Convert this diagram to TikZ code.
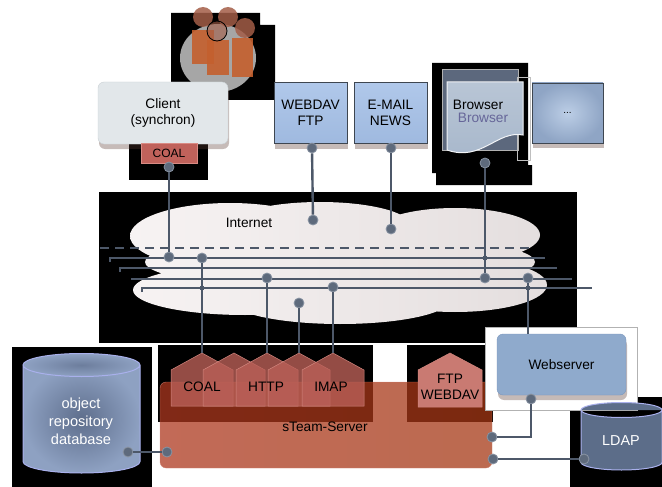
\documentclass[tikz,border=0pt]{standalone}
\usepackage{fontspec}
\setmainfont{Liberation Sans}
\usetikzlibrary{shadows,positioning}

\definecolor{netline}{HTML}{4D5869}
\definecolor{portfill}{HTML}{5E6A7C}
\definecolor{portring}{HTML}{8A94A3}
\definecolor{clientfill}{HTML}{E2E7EA}
\definecolor{clientedge}{HTML}{C9D0D4}
\definecolor{protolight}{HTML}{B0C8EA}
\definecolor{protofill}{HTML}{9FB9DF}
\definecolor{protoedge}{HTML}{3E4650}
\definecolor{dotslight}{HTML}{BCCEE6}
\definecolor{dotsdark}{HTML}{8FA5C5}
\definecolor{browserback}{HTML}{5C687D}
\definecolor{browserpage}{HTML}{A7B7CB}
\definecolor{cloudleft}{HTML}{F7F3F3}
\definecolor{cloudright}{HTML}{E4DEDE}
\definecolor{coaltab}{HTML}{C0625B}
\definecolor{coaltabedge}{HTML}{D98B84}
\definecolor{housefill}{HTML}{B95F57}
\definecolor{houseedge}{HTML}{D2867E}
\definecolor{ftpfill}{HTML}{C97A72}
\definecolor{webfill}{HTML}{8FAACC}
\definecolor{webedge}{HTML}{7A97BE}
\definecolor{dbinner}{HTML}{5E6E8C}
\definecolor{dbouter}{HTML}{8EA1C2}
\definecolor{dbedge}{HTML}{A9B0EC}
\definecolor{ldapfill}{HTML}{5C6D89}
\definecolor{shadowbrown}{HTML}{5B3B33}
\definecolor{serverL}{HTML}{AD381F}
\definecolor{serverM}{HTML}{CC675B}
\definecolor{serverR}{HTML}{A53815}
\definecolor{serveredge}{HTML}{D58A7C}
\definecolor{iconbody}{HTML}{C4602E}
\definecolor{iconhead}{HTML}{A35D47}

\tikzset{
  net/.style={line width=2.4pt, draw=netline},
  port/.style={circle, fill=portfill, draw=portring, line width=0.8pt,
    minimum size=10pt, inner sep=0pt},
  joint/.style={rectangle, fill=netline, minimum size=4pt, inner sep=0pt},
  boxshadow/.style={drop shadow={shadow xshift=1pt, shadow yshift=-5pt,
    opacity=0.35, fill=shadowbrown}},
  protocol/.style={rectangle, draw=protoedge, line width=0.8pt,
    top color=protolight, bottom color=protofill,
    minimum width=73pt, minimum height=61pt, align=center, boxshadow},
  house/.pic={
    \filldraw[fill=housefill, fill opacity=0.8, draw=houseedge, line width=0.5pt]
      (-31,27) -- (-31,-9) -- (0,-26) -- (31,-9) -- (31,27) -- cycle;
    \coordinate (-top) at (0,-26);
  },
}

\begin{document}
\begin{tikzpicture}[x=1pt,y=-1pt,font=\fontsize{13.7}{16}\selectfont]
\useasboundingbox (0,0) rectangle (662,487);

% black backdrops
\fill[black] (171,13) rectangle (260,100) (255,25) rectangle (275,100);
\fill[black] (129,144) rectangle (208,180);
\fill[black] (432,63) rectangle (528,173) (436,165) rectangle (532,185);
\fill[black] (99,192) rectangle (577,343);
\fill[black] (158,345) rectangle (373,422);
\fill[black] (407,345) rectangle (493,422);
\fill[black] (12,347) rectangle (152,487);
\fill[black] (570,397) rectangle (662,487);

% users icon
\fill[gray!70] (218,58) ellipse (38 and 34);
\fill[iconbody, opacity=0.9] (192,30) rectangle (214,64);
\fill[iconbody, opacity=0.9] (207,40) rectangle (229,75);
\fill[iconbody, opacity=0.9] (232,38) rectangle (253,77);
\fill[iconhead, opacity=0.85] (203,17) circle (10) (228,17) circle (10) (245,28) circle (10);
\filldraw[fill=iconhead, fill opacity=0.6, draw=black, line width=0.8pt] (217,31) circle (10);

% clients
\node[rectangle, rounded corners=6pt, fill=clientfill, draw=clientedge,
  minimum width=130pt, minimum height=62pt, align=center, boxshadow]
  (client) at (163,113) {Client\\(synchron)};
\node[rectangle, fill=coaltab, draw=coaltabedge, minimum width=56pt,
  minimum height=20pt, inner sep=0pt, font=\fontsize{12}{14}\selectfont]
  (clientcoal) at (169,153) {COAL};
\node[protocol] (webdav) at (310.5,113) {WEBDAV\\FTP};
\node[protocol] (email) at (390.5,113) {E-MAIL\\NEWS};
\node[rectangle, draw=protoedge, line width=0.8pt, inner color=dotslight,
  outer color=dotsdark, minimum width=71pt, minimum height=60pt, boxshadow]
  (more) at (567.5,113) {\fontsize{10}{12}\selectfont ...};

% browser page
\filldraw[fill=browserback, draw=gray!60] (442,69) rectangle (518,150);
\draw[gray!50, line width=0.4pt] (517,77) rectangle (530,160);
\filldraw[top color=browserpage!80!white, bottom color=browserpage,
  draw=white!85!browserpage, line width=1pt]
  (447,82) -- (523,82) -- (523,135) .. controls (497,130) and (482,162) .. (447,150) -- cycle;
\node (browser) at (478,105) {Browser};
\node[text=gray!80!blue] (browserecho) at (483,118) {Browser};

% internet cloud
\shade[left color=cloudleft, right color=cloudright]
  (230,236) ellipse (100 and 33) (320,225) ellipse (90 and 23)
  (455,235) ellipse (85 and 27) (455,285) ellipse (92 and 27)
  (245,290) ellipse (112 and 25) (340,300) ellipse (110 and 24)
  (340,262) ellipse (195 and 28);
\node (internet) at (249,223) {Internet};

% bus lines
\coordinate (bus0w) at (100,248); \coordinate (bus0e) at (533,248);
\coordinate (bus1w) at (110,258); \coordinate (bus1e) at (545,258);
\coordinate (bus2w) at (120,268); \coordinate (bus2e) at (557,268);
\coordinate (bus3w) at (131,279); \coordinate (bus3e) at (572,279);
\coordinate (bus4w) at (142,288); \coordinate (bus4e) at (592,288);
\draw[net, dash pattern=on 9pt off 6pt] (bus0w) -- (bus0e);
\draw[net] (bus1w) ++(0,4) -- (bus1w) -- (bus1e);
\draw[net] (bus2w) ++(0,4) -- (bus2w) -- (bus2e);
\draw[net] (bus3w) -- (bus3e);
\draw[net] (bus4w) ++(0,4) -- (bus4w) -- (bus4e);

% server
\node[rectangle, rounded corners=6pt, left color=serverL, middle color=serverM,
  right color=serverR, opacity=0.75, draw=serveredge,
  minimum width=332pt, minimum height=86pt] (server) at (326,425) {};
\node (serverlabel) at (325,427) {sTeam-Server};
\pic (coal) at (202,379) {house};
\pic (mod1) at (234,379) {house};
\pic (http) at (267,379) {house};
\pic (mod2) at (299,379) {house};
\pic (imap) at (333,379) {house};
\node (coallabel) at (202,387) {COAL};
\node (httplabel) at (266,387) {HTTP};
\node (imaplabel) at (331,387) {IMAP};
\filldraw[fill=ftpfill, draw=houseedge, line width=0.5pt]
  (418,407) -- (418,370) -- (450,353) -- (482,370) -- (482,407) -- cycle;
\node[align=center] (ftp) at (450,387) {FTP\\WEBDAV};

% webserver
\fill[white] (485,327) rectangle (637,410);
\draw[gray!60, line width=0.4pt] (485,327) rectangle (637,410);
\node[rectangle, rounded corners=6pt, fill=webfill, draw=webedge,
  minimum width=129pt, minimum height=61pt, boxshadow]
  (web) at (561.5,364.5) {Webserver};

% object repository database
\shade[inner color=dbinner, outer color=dbouter]
  (23,365) -- (23,461.5) .. controls (23,467.9) and (49.2,473) .. (81.5,473)
  .. controls (113.8,473) and (140,467.9) .. (140,461.5) -- (140,365) -- cycle;
\shade[inner color=dbinner!70!dbouter, outer color=dbouter] (81.5,365) ellipse (58.5 and 11.5);
\draw[dbedge, line width=1pt]
  (23,365) -- (23,461.5) .. controls (23,467.9) and (49.2,473) .. (81.5,473)
  .. controls (113.8,473) and (140,467.9) .. (140,461.5) -- (140,365)
  (81.5,365) ellipse (58.5 and 11.5);
\node[text=white, align=center, font=\fontsize{14.6}{18}\selectfont]
  (db) at (81,421) {object\\repository\\database};

% LDAP
\filldraw[fill=ldapfill, draw=dbedge, line width=1pt]
  (581,410) -- (581,462.5) .. controls (581,466.6) and (599.1,470) .. (621.5,470)
  .. controls (643.9,470) and (662,466.6) .. (662,462.5) -- (662,410)
  (621.5,410) ellipse (40.5 and 7.5);
\node[text=white, font=\fontsize{14.4}{16}\selectfont] (ldap) at (621,441) {LDAP};

% ports
\node[port] (pClient) at (169,167) {};
\node[port] (pClientNet) at (169,257) {};
\node[port] (pWebdav) at (312,148) {};
\node[port] (pWebdavNet) at (313,220) {};
\node[port] (pMail) at (391,148) {};
\node[port] (pMailNet) at (391,229) {};
\node[port] (pBrowser) at (485,163) {};
\node[port] (pBrowserNet) at (485,278) {};
\node[port] (pCoalNet) at (202,258) {};
\node[port] (pHttpNet) at (267,278) {};
\node[port] (pModNet) at (299,303) {};
\node[port] (pImapNet) at (333,287) {};
\node[port] (pWebNet) at (528,278) {};
\node[port] (pWebOut) at (531,399) {};
\node[port] (pSrvWeb) at (492,437) {};
\node[port] (pLdap) at (584,459) {};
\node[port] (pSrvLdap) at (493,459) {};
\node[port] (pDb) at (128,452) {};
\node[port] (pSrvDb) at (167,452) {};
\node[joint] (jCoal) at (202,288) {};
\node[joint] (jBrowser) at (485,258) {};
\node[joint] (jWeb) at (528,288) {};

% connectors
\draw[net] (pClient) -- (pClientNet);
\draw[net] (pWebdav) -- (pWebdavNet);
\draw[net] (pMail) -- (pMailNet);
\draw[net] (pBrowser) -- (pBrowserNet);
\draw[net] (pCoalNet) -- (coal-top);
\draw[net] (pHttpNet) -- (http-top);
\draw[net] (pModNet) -- (mod2-top);
\draw[net] (pImapNet) -- (imap-top);
\draw[net] (pWebNet) -- (pWebNet |- web.north);
\draw[net] (pWebOut) |- (pSrvWeb);
\draw[net] (pLdap) -- (pSrvLdap);
\draw[net] (pDb) -- (pSrvDb);
\end{tikzpicture}
\end{document}
